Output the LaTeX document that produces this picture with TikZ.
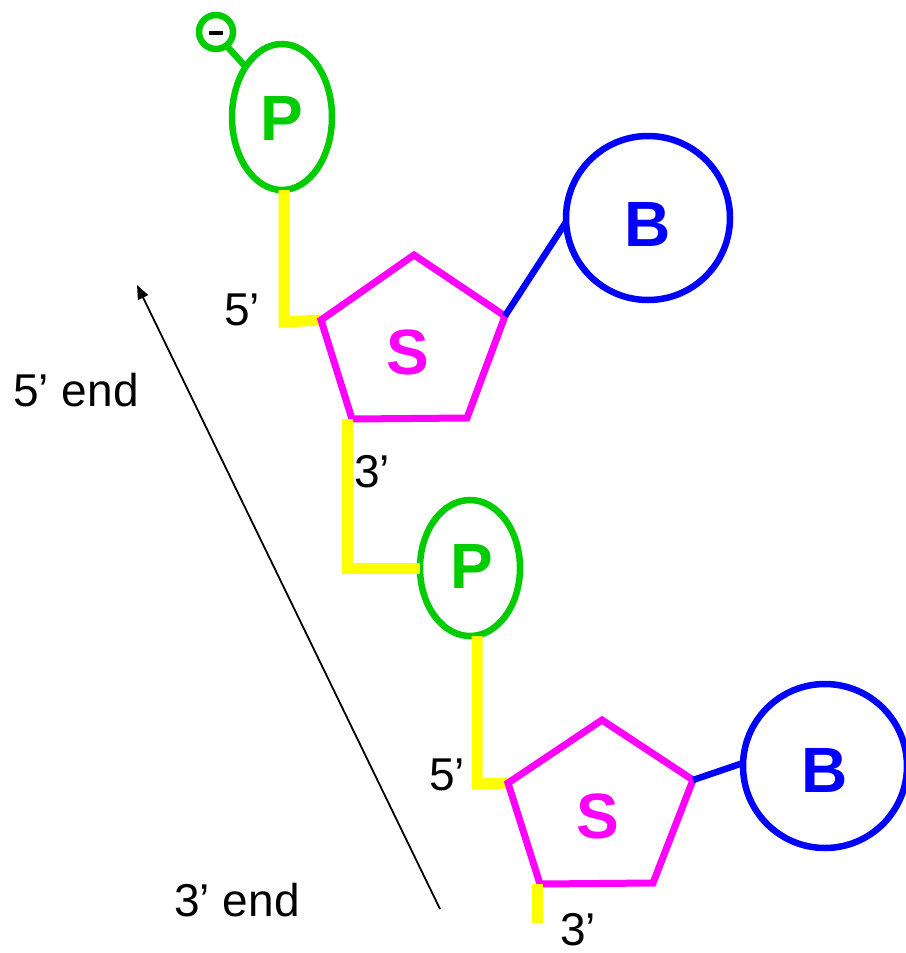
\documentclass[tikz,border=0pt]{standalone}
\usepackage{fontspec}
\setmainfont{Liberation Sans}
\usetikzlibrary{shapes.geometric,arrows.meta}
\definecolor{pmag}{RGB}{255,0,255}
\definecolor{pgrn}{RGB}{0,204,0}
\definecolor{pyel}{RGB}{255,255,0}
\definecolor{pblu}{RGB}{0,0,255}
\begin{document}
\begin{tikzpicture}[x=1pt,y=-1pt,
  yel/.style={draw=pyel,line width=11pt},
  pent/.style={draw=pmag,line width=7pt,line join=miter},
  grn/.style={draw=pgrn,line width=6.5pt},
  blu/.style={draw=pblu,line width=6.5pt},
  big/.style={font=\fontsize{64}{68}\selectfont\bfseries},
  lab/.style={font=\fontsize{46}{52}\selectfont,text=black,inner sep=0pt}]
\useasboundingbox (0,0) rectangle (905,953);
% top phosphate
\node[grn,ellipse,draw,minimum width=100pt,minimum height=146pt,inner sep=0pt] (P1) at (282,117) {};
\node[big,text=pgrn] (P1t) at (282,118) {P};
\node[grn,circle,draw,minimum size=34pt,inner sep=0pt] (neg) at (216,32) {};
\fill (209,31) rectangle (223,35);
\draw[grn] (226,45) -- (244,65);
% first sugar
\coordinate (a1) at (414,255);
\coordinate (a2) at (505,316);
\coordinate (a3) at (467,418);
\coordinate (a4) at (352,419);
\coordinate (a5) at (321,320);
\draw[yel] (284,190) -- (284,322) -- (a5);
\draw[pent] (a1) -- (a2) -- (a3) -- (a4) -- (a5) -- cycle;
\node[big,text=pmag] (S1) at (408,352) {S};
\node[blu,circle,draw,minimum size=164pt,inner sep=0pt] (B1) at (648,218) {};
\node[big,text=pblu] (B1t) at (648,224) {B};
\draw[blu] (a2) -- (566,222);
% second phosphate
\node[grn,ellipse,draw,minimum width=100pt,minimum height=136pt,inner sep=0pt] (P2) at (470,568) {};
\node[big,text=pgrn] (P2t) at (472,566) {P};
\draw[yel] (347,419) -- (347,568) -- (420,568);
% second sugar
\coordinate (b1) at (602,720);
\coordinate (b2) at (693,780);
\coordinate (b3) at (653,883);
\coordinate (b4) at (540,884);
\coordinate (b5) at (508,783);
\draw[yel] (477,636) -- (477,784) -- (b5);
\draw[pent] (b1) -- (b2) -- (b3) -- (b4) -- (b5) -- cycle;
\node[big,text=pmag] (S2) at (598,816) {S};
\node[blu,circle,draw,minimum size=164pt,inner sep=0pt] (B2) at (825,766) {};
\node[big,text=pblu] (B2t) at (825,770) {B};
\draw[blu] (b2) -- (743,763);
\draw[yel] (537,884) -- (537,923);
% labels
\node[lab] (l1) at (242,310) {5’};
\node[lab] (l2) at (372,472) {3’};
\node[lab] (l3) at (447,775) {5’};
\node[lab] (l4) at (578,930) {3’};
\node[lab] (e5) at (76,390) {5’ end};
\node[lab] (e3) at (237,900) {3’ end};
\coordinate (arS) at (440,909);
\coordinate (arE) at (137,285);
\draw[line width=1.8pt,-{Triangle[length=14pt,width=11pt]}] (arS) -- (arE);
\end{tikzpicture}
\end{document}
